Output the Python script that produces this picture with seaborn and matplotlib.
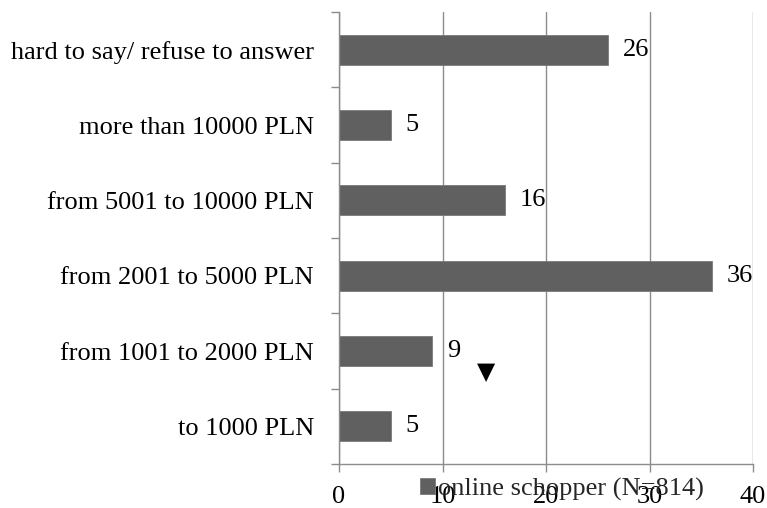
import matplotlib
matplotlib.use("Agg")
import matplotlib.pyplot as plt
import seaborn as sns
import pandas as pd
from matplotlib.patches import Patch

categories = [
    "hard to say/ refuse to answer",
    "more than 10000 PLN",
    "from 5001 to 10000 PLN",
    "from 2001 to 5000 PLN",
    "from 1001 to 2000 PLN",
    "to 1000 PLN",
]
values = [26, 5, 16, 36, 9, 5]
series_name = "online schopper (N=814)"
x_ticks = [0, 10, 20, 30, 40]

df = pd.DataFrame({"category": categories, "value": values})

sns.set_theme(style="white")
plt.rcParams["font.family"] = ["Liberation Serif", "DejaVu Sans"]

bar_color = "#606060"
grid_color = "#8c8c8c"
fs = 19

fig = plt.figure(figsize=(7.67, 5.08), dpi=100)
ax = fig.add_axes([339 / 767, 44 / 508, (753 - 339) / 767, (464 - 12) / 508])

sns.barplot(data=df, x="value", y="category", orient="h", color=bar_color,
            width=0.4, saturation=1, edgecolor="#7a7a7a", linewidth=0.6, ax=ax)

ax.set_xlim(0, 40)
ax.set_ylim(len(categories) - 0.5, -0.5)
ax.set_xticks(x_ticks)
ax.set_xticklabels([str(t) for t in x_ticks], fontsize=fs, color="black")
ax.set_xlabel("")
ax.set_ylabel("")

# category labels centred on the bars, tick marks on band boundaries
ax.set_yticks(range(len(categories)))
ax.set_yticklabels(categories, fontsize=fs, color="black")
ax.set_yticks([i - 0.5 for i in range(len(categories) + 1)], minor=True)
ax.tick_params(axis="y", which="major", length=0, pad=18)
ax.tick_params(axis="y", which="minor", length=6, width=1, color=grid_color, left=True)
ax.tick_params(axis="x", which="major", length=6, width=1, color=grid_color, bottom=True, pad=10)

ax.xaxis.grid(True, color=grid_color, linewidth=1)
ax.yaxis.grid(False)
ax.set_axisbelow(True)
for side in ("top", "right"):
    ax.spines[side].set_visible(False)
for side in ("left", "bottom"):
    ax.spines[side].set_color(grid_color)
    ax.spines[side].set_linewidth(1)

for i, v in enumerate(values):
    ax.text(v + 1.45, i, str(v), va="center", ha="left", fontsize=fs, color="black")

ax.text(14.2, 4.28, "\u25BC", ha="center", va="center", fontsize=17,
        color="black", family="DejaVu Sans")

handle = Patch(facecolor=bar_color, edgecolor="#7a7a7a", linewidth=0.6)
fig.legend([handle], [series_name], loc="center left",
           bbox_to_anchor=(420 / 767, 19 / 508), frameon=False, fontsize=fs,
           handlelength=0.55, handleheight=0.55, handletextpad=0.15,
           borderpad=0, borderaxespad=0)

fig.savefig("out.png", dpi=100)
